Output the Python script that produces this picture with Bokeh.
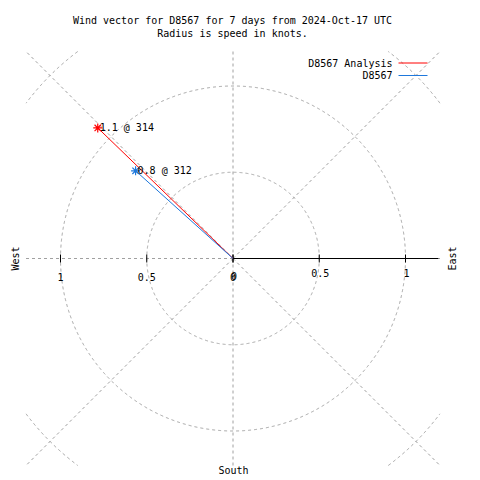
import math
import numpy as np
from bokeh.plotting import figure
from bokeh.models import Range1d, Label
from bokeh.core.properties import value
from bokeh.embed import file_html
from bokeh.resources import INLINE

# ---- data ----
series_names = ["D8567 Analysis", "D8567"]
speeds = [1.09, 0.76]          # knots
directions = [314, 312]        # degrees
series_colors = ["#ff0000", "#1e78dc"]
ring_values = [0.5, 1.0, 1.5]
tick_values = [0.0, 0.5, 1.0]
tick_labels = ["0", "0.5", "1"]
title_lines = ["Wind vector for D8567 for 7 days from 2024-Oct-17 UTC",
               "Radius is speed in knots."]

# ---- geometry (pixel <-> data mapping) ----
S = 172.5
CX, CY = 232.5, 258.0
LIM = 1.2
W = 480
def px(x):
    return (x - CX) / S
def py(y):
    return (CY - y) / S

FONT_NAME = "DejaVu Sans Mono"
FONT = value(FONT_NAME)
FS = "10px"
GRID = "#a0a0a0"

p = figure(width=W, height=W, output_backend="svg", toolbar_location=None,
           x_range=Range1d(px(0), px(W)), y_range=Range1d(py(W), py(0)),
           min_border=0, x_axis_location=None, y_axis_location=None)
p.grid.visible = False
p.outline_line_color = None
p.background_fill_color = "white"
p.border_fill_color = "white"

# rings clipped to the square
th = np.linspace(0, 2 * np.pi, 2001)
for r in ring_values:
    xs = r * np.cos(th)
    ys = r * np.sin(th)
    mask = (np.abs(xs) > LIM) | (np.abs(ys) > LIM)
    xs = xs.copy(); ys = ys.copy()
    xs[mask] = np.nan; ys[mask] = np.nan
    p.line(xs, ys, line_color=GRID, line_dash="3 3", line_width=1)

# radial spokes
for a in range(0, 360, 45):
    ca, sa = math.cos(math.radians(a)), math.sin(math.radians(a))
    t = LIM / max(abs(ca), abs(sa))
    p.line([0, ca * t], [0, sa * t], line_color=GRID, line_dash="3 3", line_width=1)

# polar axis (black) with ticks
p.line([0, 1.19], [0, 0], line_color="black", line_width=1)
tick_half = 4 / S
for tv in tick_values:
    for sgn in (1, -1):
        p.segment(x0=[sgn * tv], y0=[-tick_half], x1=[sgn * tv], y1=[tick_half],
                  line_color="black", line_width=1)

# tick labels (right side drawn twice, slightly offset, as in the reference)
for tv, tl in zip(tick_values, tick_labels):
    p.text(x=[-tv], y=[py(276)], text=[tl], text_font=FONT, text_font_size=FS,
           text_align="center", text_baseline="middle", text_color="black")
    if tv == 0:
        p.text(x=[tv + 1 / S], y=[py(275)], text=[tl], text_font=FONT, text_font_size=FS,
               text_align="center", text_baseline="middle", text_color="black")
    else:
        p.text(x=[tv + 1 / S], y=[py(272)], text=[tl], text_font=FONT, text_font_size=FS,
               text_align="center", text_baseline="middle", text_color="black")

# vectors
for name, spd, d, col in zip(series_names, speeds, directions, series_colors):
    ex = spd * math.sin(math.radians(d))
    ey = spd * math.cos(math.radians(d))
    p.line([0, ex], [0, ey], line_color=col, line_width=1)
    p.scatter([ex], [ey], marker="asterisk", size=9, line_color=col, line_width=1.2)
    p.text(x=[ex + 2 / S], y=[ey], text=["%.1f @ %d" % (spd, d)], text_font=FONT,
           text_font_size=FS, text_align="left", text_baseline="middle", text_color="black")

# legend
for i, (name, col) in enumerate(zip(series_names, series_colors)):
    yy = 62.5 + 12.5 * i
    p.text(x=[px(392)], y=[py(yy)], text=[name], text_font=FONT, text_font_size=FS,
           text_align="right", text_baseline="middle", text_color="black")
    p.line([px(398), px(427)], [py(yy), py(yy)], line_color=col, line_width=1)

# title
for i, t in enumerate(title_lines):
    p.add_layout(Label(x=px(232), y=py(20 + 13 * i), text=t, text_font=FONT_NAME,
                       text_font_size=FS, text_align="center", text_baseline="middle",
                       text_color="black"))

# compass labels
p.add_layout(Label(x=px(15), y=py(258), text="West", angle=math.pi / 2,
                   text_font=FONT_NAME, text_font_size=FS, text_align="center",
                   text_baseline="middle", text_color="black"))
p.add_layout(Label(x=px(452), y=py(258), text="East", angle=math.pi / 2,
                   text_font=FONT_NAME, text_font_size=FS, text_align="center",
                   text_baseline="middle", text_color="black"))
p.add_layout(Label(x=px(233), y=py(470), text="South",
                   text_font=FONT_NAME, text_font_size=FS, text_align="center",
                   text_baseline="middle", text_color="black"))

open("out.html", "w").write(file_html(p, INLINE))
